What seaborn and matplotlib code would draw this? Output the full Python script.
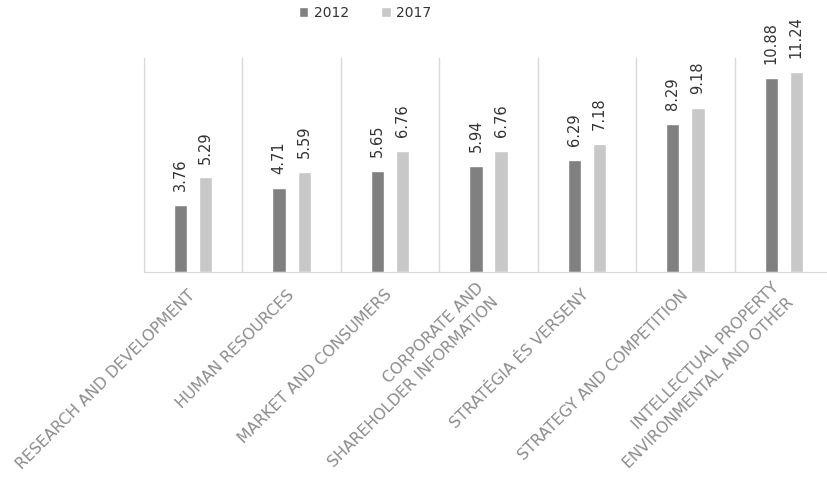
import seaborn as sns
import pandas as pd
from matplotlib import pyplot as plt

### data

categories = ['RESEARCH AND DEVELOPMENT', 'HUMAN RESOURCES', 'MARKET AND CONSUMERS',
              'CORPORATE AND\nSHAREHOLDER INFORMATION', 'STRATÉGIA ÉS VERSENY',
              'STRATEGY AND COMPETITION', 'INTELLECTUAL PROPERTY\nENVIRONMENTAL AND OTHER']
years = ['2012', '2017']
values_2012 = [3.76, 4.71, 5.65, 5.94, 6.29, 8.29, 10.88]
values_2017 = [5.29, 5.59, 6.76, 6.76, 7.18, 9.18, 11.24]

df = pd.DataFrame({
    'category': categories * 2,
    'year': [years[0]] * len(categories) + [years[1]] * len(categories),
    'value': values_2012 + values_2017,
})

### plot

sns.set_style('white')
plt.rcParams['font.family'] = ['DejaVu Sans']

fig = plt.figure(figsize=(8.28, 4.78), dpi=100)
ax = fig.add_axes([144 / 828, 206.3 / 478, 689 / 828, 213.7 / 478])

sns.barplot(data=df, x='category', y='value', hue='year', order=categories,
            palette=['#808080', '#c8c8c8'], width=0.51, gap=0.47,
            saturation=1, ax=ax, legend=True)

ax.set_ylim(0, 12)
ax.set_xlim(-0.5, len(categories) - 0.5)
ax.set_xlabel('')
ax.set_ylabel('')
ax.set_yticks([])

# category separators
ax.set_xticks([i - 0.5 for i in range(len(categories) + 1)], minor=True)
ax.grid(True, which='minor', axis='x', color='#d9d9d9', linewidth=1)
ax.tick_params(axis='x', which='both', length=0)
ax.set_xticklabels(categories, rotation=45, ha='right', va='center',
                   rotation_mode='anchor', fontsize=11.3, color='#8c8c8c',
                   multialignment='right', linespacing=1.5)
ax.tick_params(axis='x', which='major', pad=15)

for s in ['top', 'right']:
    ax.spines[s].set_visible(False)
ax.spines['left'].set_color('#d9d9d9')
ax.spines['bottom'].set_color('#d9d9d9')

for c in ax.containers:
    ax.bar_label(c, fmt='%.2f', rotation=90, padding=10, fontsize=10.5, color='#333333')

handles, labels = ax.get_legend_handles_labels()
ax.get_legend().remove()
fig.legend(handles, labels, loc='center', bbox_to_anchor=(365 / 828, 1 - 13 / 478),
           ncol=2, frameon=False, fontsize=10, handlelength=0.7, handleheight=0.7,
           handletextpad=0.4, columnspacing=2.3, labelcolor='#333333')

plt.savefig('out.png', dpi=100)
